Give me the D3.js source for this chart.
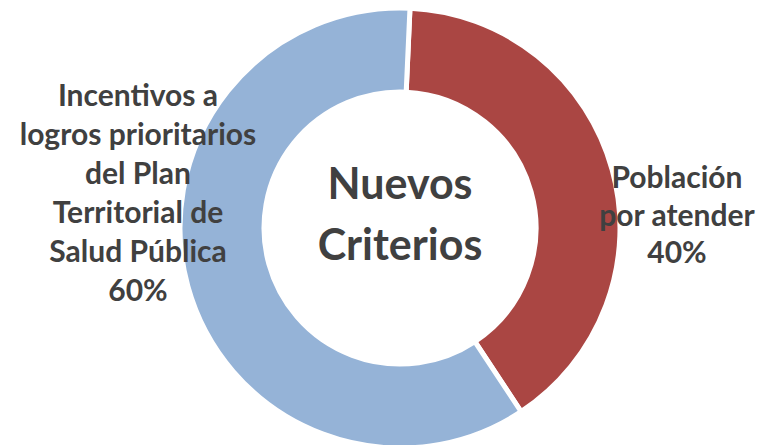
<!DOCTYPE html>
<html>
<head>
<meta charset="utf-8">
<script src="https://cdn.jsdelivr.net/npm/d3@7"></script>
<style>
  body { margin: 0; background: #fff; }
  text { font-family: Lato, "Open Sans", sans-serif; font-weight: bold; fill: #404040; }
</style>
</head>
<body>
<div id="container"></div>
<script>
let w = 769;
let h = 445;

// data
let categories = ["Población por atender", "Incentivos a logros prioritarios del Plan Territorial de Salud Pública"];
let values = [40, 60];
let labelLines = [
  ["Población", "por atender", "40%"],
  ["Incentivos a", "logros prioritarios", "del Plan", "Territorial de", "Salud Pública", "60%"]
];
let centerLines = ["Nuevos", "Criterios"];
let colors = ["#AA4643", "#95B3D7"];

let cx = 400;
let cy = 228;
let outerR = 220;
let innerR = 136;

let viz = d3.select("#container")
  .append("svg")
    .attr("width", w)
    .attr("height", h)
;

let pie = d3.pie().sort(null)
  .startAngle(2.6 * Math.PI / 180)
  .endAngle(2 * Math.PI + 2.6 * Math.PI / 180);
let arc = d3.arc().innerRadius(innerR).outerRadius(outerR);

let slices = pie(values);

let g = viz.append("g").attr("transform", "translate(" + cx + ", " + cy + ")");

g.selectAll(".slice").data(slices).enter()
  .append("path")
    .attr("class", "slice")
    .attr("d", arc)
    .attr("fill", function(d, i){return colors[i]})
    .attr("stroke", "#fff")
    .attr("stroke-width", 5)
;

// center title
viz.append("text")
  .attr("x", cx)
  .attr("y", 199)
  .attr("text-anchor", "middle")
  .attr("font-size", 43)
  .selectAll("tspan").data(centerLines).enter()
  .append("tspan")
    .attr("x", cx)
    .attr("dy", function(d, i){return i == 0 ? 0 : 61})
    .text(function(d){return d})
;

// slice labels
let labelPos = [
  {x: 677, y: 188, lh: 37.5},
  {x: 138, y: 106, lh: 39}
];

labelLines.forEach(function(lines, k){
  viz.append("text")
    .attr("x", labelPos[k].x)
    .attr("y", labelPos[k].y)
    .attr("text-anchor", "middle")
    .attr("font-size", 30)
    .selectAll("tspan").data(lines).enter()
    .append("tspan")
      .attr("x", labelPos[k].x)
      .attr("dy", function(d, i){return i == 0 ? 0 : labelPos[k].lh})
      .text(function(d){return d})
  ;
});
</script>
</body>
</html>
